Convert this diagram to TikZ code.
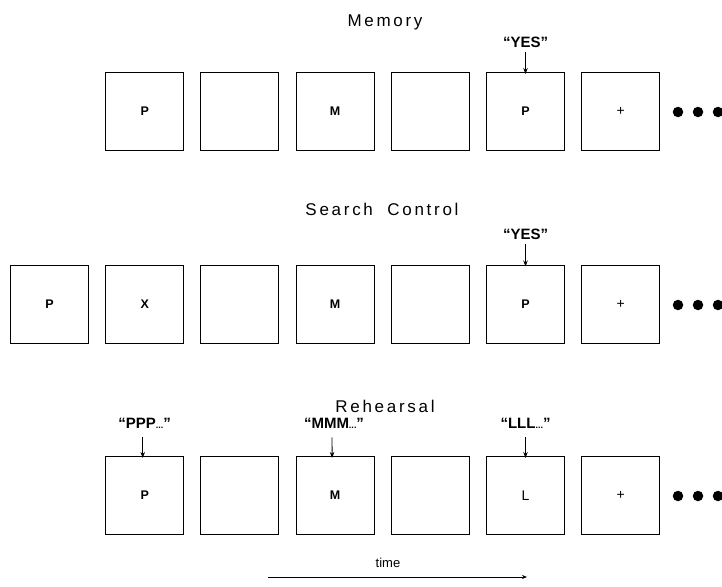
\documentclass[tikz,border=0pt]{standalone}
\usepackage{fontspec}
\setmainfont{Liberation Sans}
\newfontfamily\titlefont[LetterSpace=16]{Liberation Sans}
\usetikzlibrary{arrows.meta}
\tikzset{
  frame/.style={draw, line width=1pt, minimum width=78pt, minimum height=78pt, inner sep=0pt},
  lab/.style={font=\bfseries\fontsize{12.5}{14}\selectfont},
  plainlab/.style={font=\fontsize{14}{16}\selectfont},
  quote/.style={font=\bfseries\fontsize{15}{17}\selectfont, inner sep=0pt},
  ttl/.style={font=\titlefont\fontsize{17}{20}\selectfont, inner sep=0pt},
  cue/.style={line width=0.9pt, -{Stealth[length=6pt,width=4.5pt]}},
  dot/.style={circle, fill=black, minimum size=10.5pt, inner sep=0pt}
}
\begin{document}
\begin{tikzpicture}[x=1pt,y=-1pt]
\useasboundingbox (0,0) rectangle (722,586);
% ---------- Memory ----------
\node[ttl] (t1) at (385,22) {Memory};
\node[frame,lab] (a1) at (144.7,111.5) {P};
\node[frame] (a2) at (239.9,111.5) {};
\node[frame,lab] (a3) at (335.1,111.5) {M};
\node[frame] (a4) at (430.3,111.5) {};
\node[frame,lab] (a5) at (525.5,111.5) {P};
\node[frame,plainlab] (a6) at (620.7,111.5) {+};
\node[dot] (ad1) at (678,112) {};
\node[dot] (ad2) at (698,112) {};
\node[dot] (ad3) at (718,112) {};
\node[quote] (q1) at (525.5,42) {“YES”};
\coordinate (q1e) at ([yshift=-2pt]a5.north);
\draw[cue] ([yshift=-4pt]q1.south) -- (q1e);
% ---------- Search Control ----------
\node[ttl] (t2) at (382,209) {Search\hspace{7pt} Control};
\node[frame,lab] (b0) at (49.5,304) {P};
\node[frame,lab] (b1) at (144.7,304) {X};
\node[frame] (b2) at (239.9,304) {};
\node[frame,lab] (b3) at (335.1,304) {M};
\node[frame] (b4) at (430.3,304) {};
\node[frame,lab] (b5) at (525.5,304) {P};
\node[frame,plainlab] (b6) at (620.7,304) {+};
\node[dot] (bd1) at (678,305) {};
\node[dot] (bd2) at (698,305) {};
\node[dot] (bd3) at (718,305) {};
\node[quote] (q2) at (525.5,234) {“YES”};
\coordinate (q2e) at ([yshift=-2pt]b5.north);
\draw[cue] ([yshift=-4pt]q2.south) -- (q2e);
% ---------- Rehearsal ----------
\node[ttl] (t3) at (385,406) {Rehearsal};
\node[frame,lab] (c1) at (144.7,495.5) {P};
\node[frame] (c2) at (239.9,495.5) {};
\node[frame,lab] (c3) at (335.1,495.5) {M};
\node[frame] (c4) at (430.3,495.5) {};
\node[frame,plainlab] (c5) at (525.5,495.5) {L};
\node[frame,plainlab] (c6) at (620.7,495.5) {+};
\node[dot] (cd1) at (678,496) {};
\node[dot] (cd2) at (698,496) {};
\node[dot] (cd3) at (718,496) {};
\node[quote] (r1) at (144.7,423) {“PPP{\fontsize{9}{10}\selectfont...}”};
\node[quote] (r3) at (334,423) {“MMM{\fontsize{9}{10}\selectfont...}”};
\node[quote] (r5) at (525.5,423) {“LLL{\fontsize{9}{10}\selectfont...}”};
\coordinate (r1e) at ([yshift=-2pt]c1.north);
\coordinate (r3e) at ([yshift=-2pt]c3.north);
\coordinate (r5e) at ([yshift=-2pt]c5.north);
\draw[cue] ([xshift=-2pt,yshift=-9pt]r1.south) -- ([xshift=-2pt]r1e);
\draw[cue] ([xshift=-2pt,yshift=-9pt]r3.south) -- ([xshift=-3pt]r3e);
\draw[cue] ([yshift=-9pt]r5.south) -- (r5e);
% ---------- time ----------
\coordinate (ts) at (268,577);
\coordinate (te) at (527,577);
\draw[line width=0.8pt, -{Stealth[length=5pt,width=4pt]}] (ts) -- (te);
\node[font=\fontsize{13}{15}\selectfont, inner sep=0pt] (tl) at (388,563) {time};
\end{tikzpicture}
\end{document}
